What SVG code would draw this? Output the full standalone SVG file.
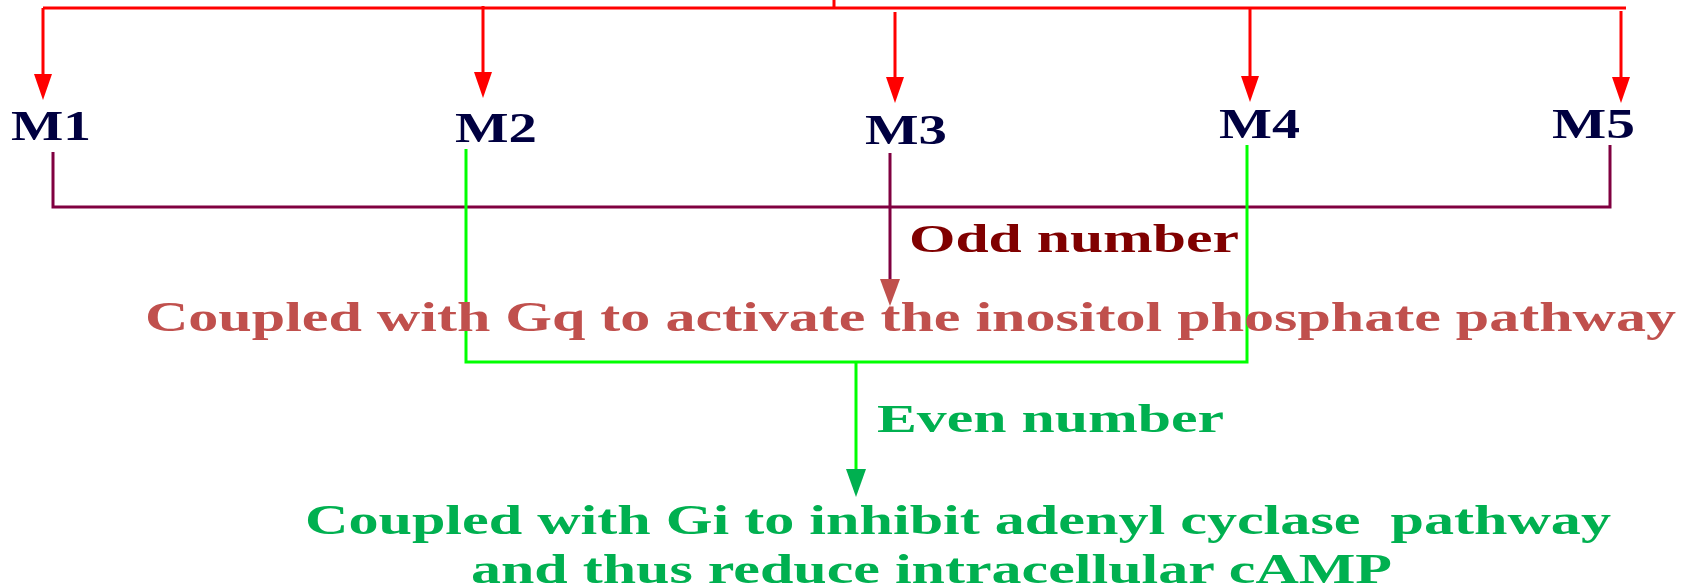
<svg xmlns="http://www.w3.org/2000/svg" width="1694" height="587" viewBox="0 0 1694 587">
<style>
.t{font-family:"Liberation Serif","Times New Roman",serif;font-weight:bold}
.m{fill:#000040;font-size:42px}
.red{stroke:#ff0000;stroke-width:3;fill:none}
.pur{stroke:#800040;stroke-width:3;fill:none}
.grn{stroke:#00ff00;stroke-width:3;fill:none}
</style>
<rect width="1694" height="587" fill="#ffffff"/>
<g id="connectors">
  <path class="red" d="M834 0V8M43 8H1626"/>
  <path class="red" d="M43 8V78M483 6V78M895 12V80M1250 8V78M1621 11V80"/>
  <g fill="#ff0000">
    <polygon points="34,74 52,74 43,100"/>
    <polygon points="474,72 492,72 483,98"/>
    <polygon points="886,77 904,77 895,103"/>
    <polygon points="1241,76 1259,76 1250,102"/>
    <polygon points="1612,77 1630,77 1621,103"/>
  </g>
  <path class="pur" d="M53 152V207H1610V145M890 153V282"/>
  <polygon points="880,279 900,279 890,306" fill="#c0504d"/>
  <path class="grn" d="M466 149V362H1247V145M856 362V472"/>
  <polygon points="846,469 866,469 856,497" fill="#00b050"/>
</g>
<g id="M1"><text class="t m" x="11" y="140" textLength="80" lengthAdjust="spacingAndGlyphs">M1</text></g>
<g id="M2"><text class="t m" x="455" y="142" textLength="82" lengthAdjust="spacingAndGlyphs">M2</text></g>
<g id="M3"><text class="t m" x="865" y="144" textLength="82" lengthAdjust="spacingAndGlyphs">M3</text></g>
<g id="M4"><text class="t m" x="1219" y="138" textLength="81" lengthAdjust="spacingAndGlyphs">M4</text></g>
<g id="M5"><text class="t m" x="1552" y="138" textLength="83" lengthAdjust="spacingAndGlyphs">M5</text></g>
<g id="odd"><text class="t" x="909" y="252" font-size="40" fill="#800000" textLength="330" lengthAdjust="spacingAndGlyphs">Odd number</text></g>
<g id="gq"><text class="t" x="145" y="331" font-size="42" fill="#c0504d" textLength="1531" lengthAdjust="spacingAndGlyphs">Coupled with Gq to activate the inositol phosphate pathway</text></g>
<g id="even"><text class="t" x="877" y="432" font-size="40" fill="#00b050" textLength="347" lengthAdjust="spacingAndGlyphs">Even number</text></g>
<g id="gi">
  <text class="t" x="305" y="534" font-size="42" fill="#00b050" xml:space="preserve" textLength="1306" lengthAdjust="spacingAndGlyphs">Coupled with Gi to inhibit adenyl cyclase  pathway</text>
  <text class="t" x="471" y="583" font-size="42" fill="#00b050" textLength="921" lengthAdjust="spacingAndGlyphs">and thus reduce intracellular cAMP</text>
</g>
</svg>
